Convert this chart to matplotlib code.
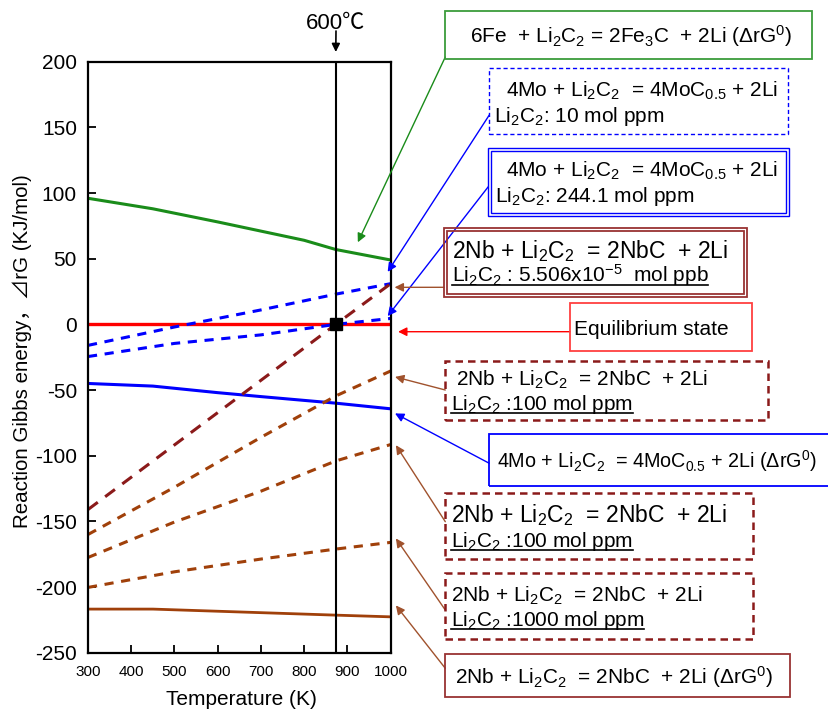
import numpy as np
import matplotlib
matplotlib.use("Agg")
import matplotlib.pyplot as plt
from matplotlib.patches import Rectangle
from matplotlib.lines import Line2D

#################### Data ####################
temp_fe = [300, 450, 600, 700, 800, 873, 1000]
dg_fe = [96, 88, 78, 71, 64, 57, 49]

temp_mo0 = [300, 450, 600, 700, 873, 1000]
dg_mo0 = [-45, -47, -52, -55, -60, -64.3]

temp_mo = [300, 500, 700, 873, 1000]
dg_mo_10ppm = [-16, -2, 11, 23, 31]
dg_mo_244ppm = [-24.5, -14.5, -8, 0, 4.5]

temp_nb_eq = [300, 873, 1000]
dg_nb_ppb = [-141, 0, 31]

temp_nb = [300, 500, 700, 873, 1000]
dg_nb_100a = [-160, -124, -86, -54.5, -35.5]
dg_nb_100b = [-177.5, -150.5, -127, -104, -91.5]
dg_nb_1000 = [-200.3, -188.4, -178.7, -171.1, -166]

temp_nb0 = [300, 450, 873, 1000]
dg_nb0 = [-216.8, -216.8, -221.4, -222.7]

temp_equil = [300, 1000]
dg_equil = [0, 0]

T_600C = 873

#################### Style ####################
W, H = 829, 710
plt.rcParams['font.family'] = ['Liberation Sans', 'Noto Sans CJK JP', 'DejaVu Sans']
plt.rcParams['mathtext.fontset'] = 'custom'
plt.rcParams['mathtext.rm'] = 'Liberation Sans'
plt.rcParams['mathtext.it'] = 'Liberation Sans:italic'
plt.rcParams['mathtext.bf'] = 'Liberation Sans:bold'
plt.rcParams['mathtext.default'] = 'regular'
plt.rcParams['axes.unicode_minus'] = False

GREEN = '#1a8c1a'
GREEN_BOX = '#3c9c3c'
BLUE = '#0000ff'
RED = '#ff0000'
RED_BOX = '#ff4040'
MAROON = '#8b1a1a'
MAROON_BOX = '#993333'
BROWN = '#a0400a'
BROWN_ARROW = '#a0522d'


def px(x, y):
    '''pixel position (from top-left) -> figure fraction'''
    return x / W, 1 - y / H


fig = plt.figure(figsize=(W / 100, H / 100), dpi=100)
ax = fig.add_axes([88 / W, 1 - 652.7 / H, (390.7 - 88) / W, (652.7 - 61.7) / H])

#################### Curves ####################
ax.plot(temp_fe, dg_fe, color=GREEN, lw=2.2)
ax.plot(temp_mo0, dg_mo0, color=BLUE, lw=2.2)
ax.plot(temp_nb0, dg_nb0, color=BROWN, lw=2.0)
ax.plot(temp_equil, dg_equil, color=RED, lw=2.4)
ax.plot(temp_mo, dg_mo_10ppm, color=BLUE, lw=2.2, dashes=(3, 2.5))
ax.plot(temp_mo, dg_mo_244ppm, color=BLUE, lw=2.2, dashes=(3, 2.5))
ax.plot(temp_nb_eq, dg_nb_ppb, color=MAROON, lw=2.2, dashes=(4, 3))
ax.plot(temp_nb, dg_nb_100a, color=BROWN, lw=2.2, dashes=(3, 2.5))
ax.plot(temp_nb, dg_nb_100b, color=BROWN, lw=2.2, dashes=(3, 2.5))
ax.plot(temp_nb, dg_nb_1000, color=BROWN, lw=2.2, dashes=(3, 2.5))
ax.axvline(T_600C, color='black', lw=1.5)
ax.plot([T_600C], [0], marker='s', color='black', ms=8, zorder=5)

ax.set_xlim(300, 1000)
ax.set_ylim(-250, 200)
ax.set_xticks(np.arange(300, 1001, 100))
ax.set_yticks(np.arange(-250, 201, 50))
ax.tick_params(axis='both', direction='in', length=6, width=1.3, right=False, top=False)
ax.tick_params(axis='y', labelsize=15, pad=8)
ax.tick_params(axis='x', labelsize=11, pad=9)
for s in ax.spines.values():
    s.set_linewidth(1.6)

fig.text(*px(22, 351.5), 'Reaction Gibbs energy\uff0c\u22bfrG (KJ/mol)', rotation=90,
         ha='center', va='center', fontsize=14.8)
fig.text(*px(241, 705), 'Temperature (K)', ha='center', va='baseline', fontsize=15)

# 600 C marker
ax.annotate('', xy=(T_600C, 207.4), xycoords='data', xytext=px(336, 31),
            textcoords='figure fraction', annotation_clip=False,
            arrowprops=dict(arrowstyle='-|>', color='black', lw=1.2,
                            mutation_scale=12, shrinkA=0, shrinkB=0))
fig.text(*px(336, 29), '600\u2103', ha='center', va='baseline', fontsize=16)

#################### Annotation boxes ####################
LI2C2 = 'Li$_2$C$_2$'
NB_EQ = '2Nb + ' + LI2C2 + '  = 2NbC  + 2Li'
MO_EQ = '4Mo + ' + LI2C2 + '  = 4MoC$_{0.5}$ + 2Li'
DG0 = ' ($\\Delta$rG$^0$)'

boxes = [
    dict(rect=(445.3, 10.7, 812.3, 58.7), ec=GREEN_BOX, ls='-', lw=1.3,
         lines=[(470, 43.3, '6Fe  + ' + LI2C2 + ' = 2Fe$_3$C  + 2Li' + DG0, 15, False)],
         start=(445.3, 57), tip=(924, 62.5), ac=GREEN),
    dict(rect=(489.3, 68.3, 788.3, 134.3), ec=BLUE, ls=(0, (3, 2)), lw=1.0,
         lines=[(506, 96.7, MO_EQ, 15, False),
                (494, 121.7, LI2C2 + ': 10 mol ppm', 15, False)],
         start=(489.3, 115), tip=(993, 40), ac=BLUE),
    dict(rect=(488.3, 147.7, 789.3, 216), ec=BLUE, ls='-', lw=1.0, double=True,
         lines=[(506, 176.7, MO_EQ, 15, False),
                (495.3, 201.7, LI2C2 + ': 244.1 mol ppm', 15, False)],
         start=(488.3, 186.7), tip=(993, 6.3), ac=BLUE),
    dict(rect=(444, 228, 747.3, 296.7), ec=MAROON_BOX, ls='-', lw=1.3, double=True,
         lines=[(451.7, 258.3, NB_EQ, 16.5, False),
                (451.7, 281.5, LI2C2 + ' : 5.506x10$^{-5}$  mol ppb', 15, True)],
         start=(444, 287.3), tip=(1009, 28.2), ac=BROWN_ARROW),
    dict(rect=(570, 302.7, 752.3, 351), ec=RED_BOX, ls='-', lw=1.3,
         lines=[(574, 335, 'Equilibrium state', 15, False)],
         start=(570, 331.7), tip=(1017, -5.6), ac=RED),
    dict(rect=(445.3, 360.7, 767.7, 420), ec=MAROON, ls=(0, (3, 2)), lw=1.8,
         lines=[(456, 386, NB_EQ, 15, False),
                (450.7, 410, LI2C2 + ' :100 mol ppm', 15, True)],
         start=(445.3, 390), tip=(1010, -40), ac=BROWN_ARROW),
    dict(rect=(489.3, 434.3, 845, 486), ec=BLUE, ls='-', lw=1.3,
         lines=[(497, 468.3, MO_EQ + DG0, 14.2, False)],
         start=(489.3, 463.3), tip=(1010, -67.8), ac=BLUE),
    dict(rect=(445.3, 493.3, 753.3, 559), ec=MAROON, ls=(0, (3, 2)), lw=1.8,
         lines=[(450.7, 521.7, NB_EQ, 16.5, False),
                (450.7, 547.3, LI2C2 + ' :100 mol ppm', 15, True)],
         start=(445.3, 521.7), tip=(1012, -92), ac=BROWN_ARROW),
    dict(rect=(445.3, 573.3, 753.3, 639.3), ec=MAROON, ls=(0, (3, 2)), lw=1.8,
         lines=[(450.7, 601.7, NB_EQ, 15, False),
                (450.7, 626, LI2C2 + ' :1000 mol ppm', 15, True)],
         start=(445.3, 610), tip=(1012, -163), ac=BROWN_ARROW),
    dict(rect=(445.3, 654, 790, 696.7), ec=MAROON_BOX, ls='-', lw=1.3,
         lines=[(455, 683.3, NB_EQ + DG0, 15, False)],
         start=(445.3, 668.3), tip=(1012, -214), ac=BROWN_ARROW),
]


def add_rect(x0, y0, x1, y1, ec, ls, lw):
    fig.add_artist(Rectangle(px(x0, y1), (x1 - x0) / W, (y1 - y0) / H,
                             transform=fig.transFigure, fill=False,
                             edgecolor=ec, linestyle=ls, linewidth=lw))


renderer = fig.canvas.get_renderer()
for b in boxes:
    x0, y0, x1, y1 = b['rect']
    add_rect(x0, y0, x1, y1, b['ec'], b['ls'], b['lw'])
    if b.get('double'):
        add_rect(x0 + 3, y0 + 3, x1 - 3, y1 - 3, b['ec'], b['ls'], b['lw'])
    for tx, ty, s, fs, underline in b['lines']:
        t = fig.text(*px(tx, ty), s, ha='left', va='baseline', fontsize=fs)
        if underline:
            bb = t.get_window_extent(renderer)
            uy = 1 - (ty + 3) / H
            fig.add_artist(Line2D([bb.x0 / W, bb.x1 / W], [uy, uy],
                                  transform=fig.transFigure, color='black', lw=1.2))
    ax.annotate('', xy=b['tip'], xycoords='data', xytext=px(*b['start']),
                textcoords='figure fraction', annotation_clip=False,
                arrowprops=dict(arrowstyle='-|>', color=b['ac'], lw=1.0,
                                mutation_scale=13, shrinkA=0, shrinkB=0))

fig.savefig('out.png', dpi=100)
